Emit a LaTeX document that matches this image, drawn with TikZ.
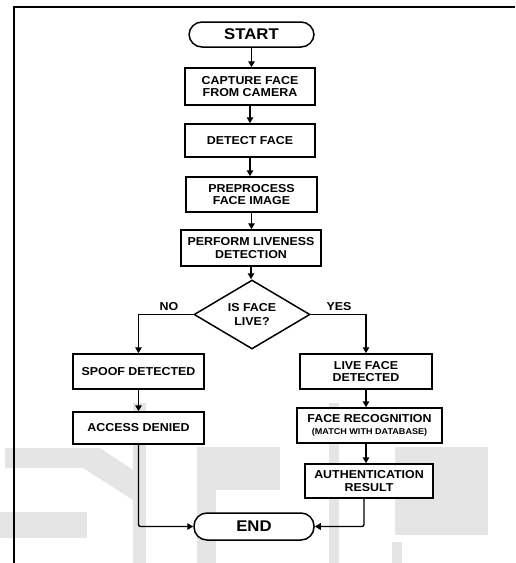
\documentclass[tikz,border=0pt]{standalone}
\usepackage{fontspec}
\setmainfont{Liberation Sans}[FakeStretch=1.08]
\usetikzlibrary{shapes.geometric,arrows.meta}

\tikzset{
  proc/.style={draw=black, fill=white, line width=1.5pt, align=center,
    inner sep=2pt, font=\fontsize{11.5}{12.8}\selectfont\bfseries},
  term/.style={draw=black, fill=white, line width=1.5pt, rounded corners=13pt,
    inner sep=2pt, font=\fontsize{15.5}{17}\selectfont\bfseries},
  decide/.style={draw=black, fill=white, line width=1.5pt, shape=diamond,
    aspect=1.68, inner sep=0pt, align=center,
    font=\fontsize{11.5}{13.5}\selectfont\bfseries},
  flow/.style={line width=1.4pt, -{Triangle[length=6pt,width=6.5pt]}},
  branchlbl/.style={font=\fontsize{11.5}{13}\selectfont\bfseries},
  wmark/.style={fill=black!10, draw=none},
}

\begin{document}
\begin{tikzpicture}[x=1pt, y=-1pt]
\useasboundingbox (0,0) rectangle (515,563);

% faint watermark lettering behind the chart
\fill[wmark] (5,448) -- (100,448) -- (133,470) -- (133,500) -- (83,468) -- (5,468) -- cycle;
\fill[wmark] (133,403) rectangle (146,563);
\fill[wmark] (0,512) rectangle (87,538);
\fill[wmark] (197,447) rectangle (280,490);
\fill[wmark] (197,490) rectangle (216,563);
\fill[wmark] (329,403) rectangle (339,563);
\fill[wmark] (395,447) rectangle (488,535);
\fill[wmark] (392,542) rectangle (402,563);

% page frame
\draw[line width=2pt] (515,7) -- (14,7) -- (14,563);

% main column
\node[term, minimum width=125pt, minimum height=25pt] (start) at (251.5,34.5) {START};
\node[proc, minimum width=130pt, minimum height=37pt] (capture) at (250,86.5) {CAPTURE FACE\\FROM CAMERA};
\node[proc, minimum width=130pt, minimum height=33pt] (detect) at (250,140.5) {DETECT FACE};
\node[proc, minimum width=131pt, minimum height=35pt] (prep) at (251.5,194.5) {PREPROCESS\\FACE IMAGE};
\node[proc, minimum width=140pt, minimum height=36pt] (liveness) at (251,248) {PERFORM LIVENESS\\DETECTION};
\node[decide, minimum width=116pt, minimum height=69pt] (dec) at (252,314.5) {IS FACE\\LIVE?};

% left branch
\node[proc, minimum width=131pt, minimum height=35pt] (spoof) at (138.5,371.5) {SPOOF DETECTED};
\node[proc, minimum width=131pt, minimum height=32pt] (denied) at (138.5,428) {ACCESS DENIED};

% right branch
\node[proc, minimum width=132pt, minimum height=35pt] (livefc) at (366,371.5) {LIVE FACE\\DETECTED};
\node[proc, minimum width=145pt, minimum height=35pt] (recog) at (369.5,425.5)
  {FACE RECOGNITION\\[-1pt]{\fontsize{8.4}{9}\selectfont(MATCH WITH DATABASE)}};
\node[proc, minimum width=128pt, minimum height=34pt] (auth) at (369,481) {AUTHENTICATION\\RESULT};

\node[term, minimum width=120pt, minimum height=27pt] (finish) at (254,526.5) {END};

% branch labels
\node[branchlbl] (nolbl) at (169,306.5) {NO};
\node[branchlbl] (yeslbl) at (339,306.5) {YES};

% connectors
\draw[flow] (start) -- (start |- capture.north);
\draw[flow] (capture) -- (capture |- detect.north);
\draw[flow] (detect) -- (detect |- prep.north);
\draw[flow] (prep) -- (prep |- liveness.north);
\draw[flow] (liveness) -- (liveness |- dec.north);
\draw[flow] (dec.west) -| (spoof.north);
\draw[flow] (dec.east) -| (livefc.north);
\draw[flow] (spoof) -- (spoof |- denied.north);
\draw[flow] (livefc) -- (livefc |- recog.north);
\draw[flow] (recog.south -| livefc) -- (livefc |- auth.north);
\draw[flow, rounded corners=2pt] (denied) |- (finish.west);
\draw[flow, rounded corners=2pt] (auth.south -| 364,0) |- (finish.east);
\end{tikzpicture}
\end{document}
